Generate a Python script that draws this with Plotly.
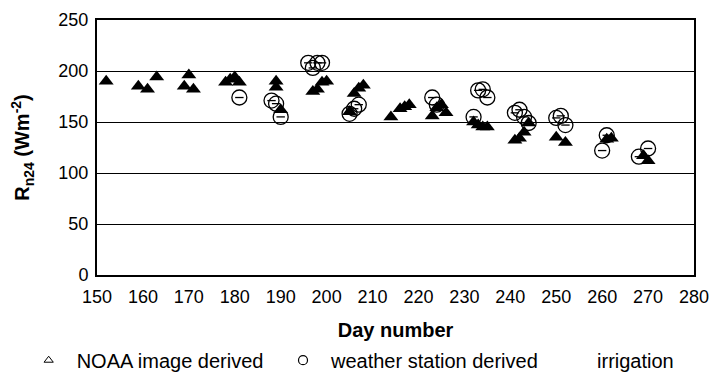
import plotly.graph_objects as go

noaa_day = [152, 159, 161, 163, 169, 170, 171, 178, 179, 180, 181, 189, 189, 190,
            197, 198, 199, 200, 205, 206, 207, 208, 214, 216, 217, 218,
            223, 224, 225, 226, 232, 233, 234, 235, 241, 242, 243, 244,
            250, 252, 261, 262, 269, 270]
noaa_rn = [190, 185, 182, 194, 185, 196, 182, 189, 192, 194, 189, 190, 184, 162,
           180, 182, 189, 190, 160, 178, 183, 186, 155, 163, 165, 167,
           156, 164, 167, 159, 150, 147, 145, 145, 132, 134, 140, 149,
           135, 130, 133, 134, 117, 112]

ws_day = [181, 188, 189, 190, 196, 197, 198, 199, 205, 206, 207, 223, 224,
          232, 233, 234, 235, 241, 242, 243, 244, 250, 251, 252, 260, 261, 268, 270]
ws_rn = [174, 171, 168, 155, 208, 203, 208, 208, 158, 163, 167, 174, 167,
         155, 181, 182, 174, 159, 162, 155, 149, 154, 156, 147, 122, 137, 116, 124]

x_ticks = list(range(150, 281, 10))
y_ticks = list(range(0, 251, 50))

font = "Liberation Sans, Arial, sans-serif"

fig = go.Figure()
fig.add_trace(go.Scatter(
    x=noaa_day, y=noaa_rn, mode="markers", showlegend=False,
    marker=dict(symbol="triangle-up", size=13, color="black",
                line=dict(color="black", width=0))))
fig.add_trace(go.Scatter(
    x=ws_day, y=ws_rn, mode="markers", showlegend=False,
    marker=dict(symbol="circle-open", size=15, color="black",
                line=dict(color="black", width=1.3))))
fig.add_trace(go.Scatter(
    x=ws_day, y=ws_rn, mode="markers", showlegend=False,
    marker=dict(symbol="line-ew-open", size=6, color="black",
                line=dict(color="black", width=1.3))))
# legend entries
fig.add_trace(go.Scatter(
    x=[None], y=[None], mode="markers", name="NOAA image derived", legend="legend",
    marker=dict(symbol="triangle-up-open", size=8, color="black",
                line=dict(color="black", width=1))))
fig.add_trace(go.Scatter(
    x=[None], y=[None], mode="markers", name="weather station derived", legend="legend2",
    marker=dict(symbol="circle-open", size=9, color="black",
                line=dict(color="black", width=1.2))))
fig.add_trace(go.Scatter(
    x=[None], y=[None], mode="markers", name="irrigation", legend="legend3",
    marker=dict(symbol="circle", size=6, color="white",
                line=dict(color="white", width=0))))

leg_common = dict(orientation="h", xref="container", yref="container",
                  xanchor="left", y=0.042, yanchor="middle",
                  font=dict(size=20, family=font), itemwidth=46,
                  bgcolor="rgba(0,0,0,0)")

fig.update_layout(
    width=713, height=376,
    margin=dict(l=97, r=19, t=19.5, b=101, autoexpand=False),
    paper_bgcolor="white", plot_bgcolor="white",
    font=dict(family=font, size=18, color="black"),
    showlegend=True,
    legend=dict(x=0.029, **leg_common),
    legend2=dict(x=0.3857, **leg_common),
    legend3=dict(x=0.7588, **leg_common),
    xaxis=dict(range=[150, 280], tickvals=x_ticks, ticktext=[str(v) for v in x_ticks],
               showgrid=False, zeroline=False, showline=True, linecolor="black",
               linewidth=2, mirror=True, ticks="", ticklabelstandoff=4,
               title=dict(text="<b>Day number</b>", font=dict(size=20, family=font),
                          standoff=25)),
    yaxis=dict(range=[0, 250], tickvals=y_ticks, ticktext=[str(v) for v in y_ticks],
               showgrid=True, gridcolor="black", gridwidth=1.3, zeroline=False,
               showline=True, linecolor="black", linewidth=2, mirror=True, ticks="",
               ticklabelstandoff=3,
               title=dict(text="<b>R<sub>n24</sub> (Wm<sup>-2</sup>)</b>",
                          font=dict(size=20, family=font), standoff=23)),
)

fig.write_html("out.html")
